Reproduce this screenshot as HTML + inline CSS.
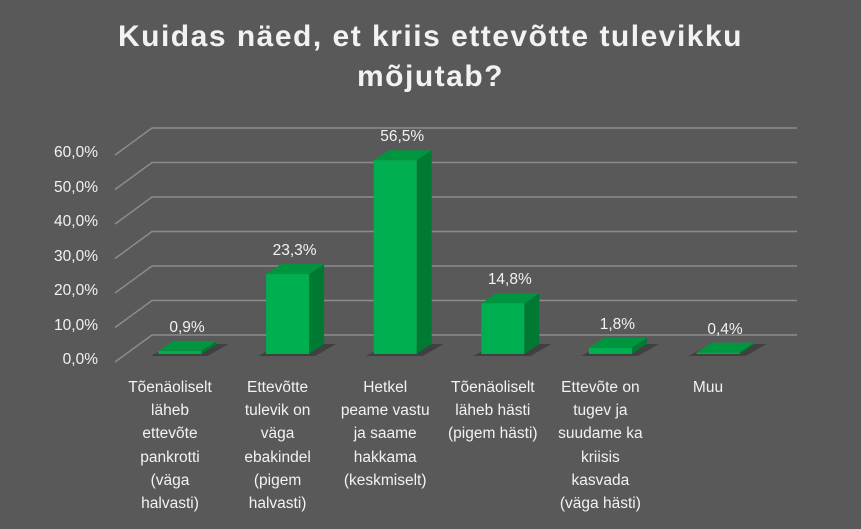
<!DOCTYPE html>
<html><head><meta charset="utf-8"><style>
body{margin:0;background:#595959;}
#wrap{position:relative;width:861px;height:529px;background:#595959;font-family:"Liberation Sans",sans-serif;overflow:hidden}
.t{position:absolute;color:#f2f2f2;}
.cat{position:absolute;top:376px;width:140px;text-align:center;color:#f2f2f2;font-size:15.5px;line-height:23.2px;white-space:nowrap}
</style></head><body>
<div id="wrap">
<div class="t" style="left:0;width:861px;top:17px;text-align:center;font-size:30px;font-weight:bold;line-height:40px;letter-spacing:1.5px">Kuidas näed, et kriis ettevõtte tulevikku<br>mõjutab?</div>
<svg id="svg" width="861" height="529" style="position:absolute;left:0;top:0"></svg>
</div>
<script>
const categories=["Tõenäoliselt<br>läheb<br>ettevõte<br>pankrotti<br>(väga<br>halvasti)","Ettevõtte<br>tulevik on<br>väga<br>ebakindel<br>(pigem<br>halvasti)","Hetkel<br>peame vastu<br>ja saame<br>hakkama<br>(keskmiselt)","Tõenäoliselt<br>läheb hästi<br>(pigem hästi)","Ettevõte on<br>tugev ja<br>suudame ka<br>kriisis<br>kasvada<br>(väga hästi)","Muu"];
const values=[0.9,23.3,56.5,14.8,1.8,0.4];
const valueLabels=["0,9%","23,3%","56,5%","14,8%","1,8%","0,4%"];
const ticks=[0,10,20,30,40,50,60];
const tickLabels=["0,0%","10,0%","20,0%","30,0%","40,0%","50,0%","60,0%"];
const NS="http://www.w3.org/2000/svg";
const svg=document.getElementById('svg');
const wrap=document.getElementById('wrap');
function yBack(v){return 335-v*3.45;}
function yFront(v){return 362-v*3.45;}
function yBar(v){return 354-v*3.43;}
function xCenter(i){return 180+i*107.6;}
function mk(t,a){const e=document.createElementNS(NS,t);for(const k in a)e.setAttribute(k,a[k]);svg.appendChild(e);return e;}
ticks.forEach((v,i)=>{
 const g=mk('polyline',{points:`115,${yFront(v)} 152,${yBack(v)} 797,${yBack(v)}`,fill:'none',stroke:'#8c8c8c','stroke-width':1.5});
 
 
 const d=document.createElement('div');
 d.className='t';
 
 
 d.style.cssText=`left:10px;width:88px;text-align:right;font-size:15.5px;top:${yFront(v)-11}px`;
 d.textContent=tickLabels[i];
 wrap.appendChild(d);
});
values.forEach((v,i)=>{
 const cx=xCenter(i),l=cx-21.5,r=cx+21.5,b=354,t=yBar(v),dx=15,dy=-10;
 const sh=mk('polygon',{points:`${l-8},${b+2} ${r+6},${b+2} ${r+dx+12},${b+dy} ${l+dx},${b+dy}`,fill:'#3a3a3a',opacity:0.8});
 
 
 const s=mk('polygon',{points:`${r},${b} ${r+dx},${b+dy} ${r+dx},${t+dy} ${r},${t}`,fill:'#007a33'});
 
 
 const tp=mk('polygon',{points:`${l},${t} ${r},${t} ${r+dx},${t+dy} ${l+dx},${t+dy}`,fill:'#00963f'});
 
 
 const f=mk('rect',{x:l,y:t,width:43,height:Math.max(b-t,0.5),fill:'#00b050'});
 
 
 const d=document.createElement('div');
 d.className='t';
 
 
 d.style.cssText=`left:${cx-35+7}px;width:70px;text-align:center;font-size:15.5px;top:${t+dy-22}px`;
 d.textContent=valueLabels[i];
 wrap.appendChild(d);
 const c=document.createElement('div');
 c.className='cat';
 
 
 c.style.left=(cx-10-70)+'px';
 c.innerHTML=categories[i];
 wrap.appendChild(c);
});
</script>
</body></html>
